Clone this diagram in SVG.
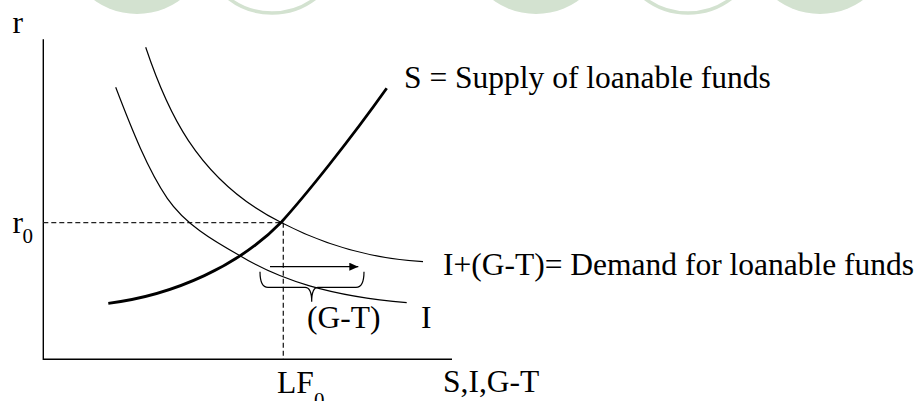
<svg xmlns="http://www.w3.org/2000/svg" width="919" height="401" viewBox="0 0 919 401">
<defs>
<style>
.bgf{fill:#d3e2d0;stroke:none}
.bgo{fill:none;stroke:#d3e2d0;stroke-width:3.5}
.ax{fill:none;stroke:#000;stroke-width:1.4}
.thin{fill:none;stroke:#000;stroke-width:1.2}
.thick{fill:none;stroke:#000;stroke-width:2.8}
.dash{fill:none;stroke:#222;stroke-width:1.3;stroke-dasharray:5,3}
text{font-family:"Liberation Serif","Times New Roman",serif;font-size:31.5px;fill:#000}
.sub{font-size:21px}
</style>
<marker id="ah" markerWidth="10" markerHeight="8" refX="9" refY="4" orient="auto" markerUnits="userSpaceOnUse">
<path d="M0,0 L9,4 L0,8 Z" fill="#000"/>
</marker>
</defs>
<rect width="919" height="401" fill="#fff"/>
<g id="background">
<circle class="bgf" cx="137" cy="-59" r="73"/>
<circle class="bgo" cx="272" cy="-58" r="71"/>
<circle class="bgf" cx="536" cy="-59" r="73"/>
<circle class="bgo" cx="688" cy="-58" r="71"/>
<circle class="bgf" cx="820" cy="-59" r="73"/>
</g>
<g id="axes">
<path class="ax" d="M43.3,39.3 L43.3,359.3 L452,359.3"/>
<text x="12.5" y="33">r</text>
<text x="443" y="392">S,I,G-T</text>
</g>
<g id="guides">
<path class="dash" d="M43.3,222.7 L283.3,222.7"/>
<path class="dash" d="M283.3,222.7 L283.3,359"/>
<text x="12.5" y="233">r<tspan class="sub" x="22.5" y="243">0</tspan></text>
<text x="277" y="392.5">LF<tspan class="sub" x="314" y="407">0</tspan></text>
</g>
<g id="supply">
<path class="thick" d="M108.3,303.3 C175,295 240,265 281.7,221.7 C305,196 350,140 386.7,88.3"/>
<text x="404" y="88">S = Supply of loanable funds</text>
</g>
<g id="demand">
<path class="thin" d="M145.7,47.3 C165,105 195,180 281.7,222.7 C315,240 360,258 423,261.7"/>
<text x="443" y="275">I+(G-T)= Demand for loanable funds</text>
</g>
<g id="investment">
<path class="thin" d="M115.7,87.3 C132,130 148,170 167.3,198.3 C185,224 212,240 240,255.7 C280,280 330,296 406.7,302.7"/>
<text x="421" y="328">I</text>
</g>
<g id="connectors">
<path class="thin" d="M270,266.7 L358.3,266.7" marker-end="url(#ah)"/>
<path class="thin" d="M260,271.7 C260,282 262,287.3 268,287.3 L305,287.3 C309,287.3 311.7,292 311.7,301.7 C311.7,292 314,287.3 318,287.3 L356,287.3 C362,287.3 364,282 364,271.7"/>
<text x="307" y="328">(G-T)</text>
</g>
</svg>
